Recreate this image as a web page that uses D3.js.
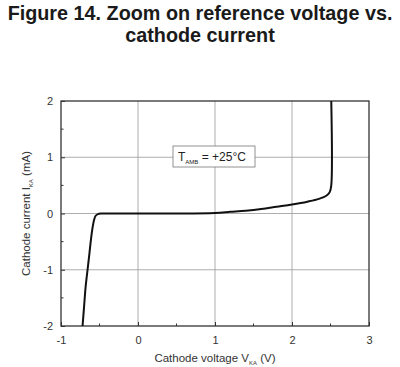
<!doctype html>
<html>
<head>
<meta charset="utf-8">
<script src="https://cdn.jsdelivr.net/npm/d3@7"></script>
<style>
  body { margin: 0; background: #fff; }
  svg { font-family: "Liberation Sans", Arial, sans-serif; }
</style>
</head>
<body>
<script>
// data
const voltage = [-0.72, -0.7, -0.68, -0.655, -0.63, -0.61, -0.59, -0.57, -0.55, -0.52, -0.48, -0.4, 0, 0.5, 1.0, 1.2, 1.4, 1.6, 1.8, 2.0, 2.2, 2.35, 2.45, 2.49, 2.51, 2.51]
const current = [-2, -1.65, -1.3, -1.0, -0.7, -0.45, -0.25, -0.11, -0.04, -0.01, 0, 0, 0, 0, 0.01, 0.03, 0.05, 0.08, 0.12, 0.16, 0.21, 0.26, 0.32, 0.38, 0.5, 2]
const xTicks = [-1, 0, 1, 2, 3]
const yTicks = [-2, -1, 0, 1, 2]
const xMinor = [-0.5, 0.5, 1.5, 2.5]
const yMinor = [-1.5, -0.5, 0.5, 1.5]

const w = 400
const h = 367
const pl = 61, pr = 369, pt = 101, pb = 326

const svg = d3.select('body').append('svg')
    .attr('width', w)
    .attr('height', h)

// title
svg.append('text')
    .attr('x', 200).attr('y', 20)
    .attr('text-anchor', 'middle')
    .attr('font-size', '19.8px').attr('font-weight', 'bold')
    .attr('fill', '#1a1a1a')
    .text('Figure 14. Zoom on reference voltage vs.')
svg.append('text')
    .attr('x', 200).attr('y', 42)
    .attr('text-anchor', 'middle')
    .attr('font-size', '19.8px').attr('font-weight', 'bold')
    .attr('fill', '#1a1a1a')
    .text('cathode current')

const x = d3.scaleLinear().domain([-1, 3]).range([pl, pr])
const y = d3.scaleLinear().domain([-2, 2]).range([pb, pt])

// grid
svg.selectAll('line.gx')
    .data(xTicks.slice(1, -1))
    .enter().append('line')
    .attr('x1', d => x(d)).attr('x2', d => x(d))
    .attr('y1', pt).attr('y2', pb)
    .attr('stroke', '#999').attr('stroke-width', 0.8)
svg.selectAll('line.gy')
    .data(yTicks.slice(1, -1))
    .enter().append('line')
    .attr('x1', pl).attr('x2', pr)
    .attr('y1', d => y(d)).attr('y2', d => y(d))
    .attr('stroke', '#999').attr('stroke-width', 0.8)

// axes (ticks inward)
const xAxis = svg.append('g')
    .attr('transform', 'translate(0,' + pb + ')')
    .call(d3.axisBottom(x).tickValues(xTicks).tickSize(-4).tickPadding(8).tickFormat(d => String(d)))
const yAxis = svg.append('g')
    .attr('transform', 'translate(' + pl + ',0)')
    .call(d3.axisLeft(y).tickValues(yTicks).tickSize(-4).tickPadding(8).tickFormat(d => String(d)))
;[xAxis, yAxis].forEach(g => {
    g.select('.domain').remove()
    g.selectAll('line').attr('stroke', '#333')
    g.selectAll('text').attr('font-size', '11px').attr('fill', '#333')
        .attr('font-family', '"Liberation Sans", Arial, sans-serif')
})
xAxis.selectAll('text').attr('dy', '0.9em')

// minor ticks
svg.selectAll('line.mx')
    .data(xMinor)
    .enter().append('line')
    .attr('x1', d => x(d)).attr('x2', d => x(d))
    .attr('y1', pb).attr('y2', pb - 2.5)
    .attr('stroke', '#333')
svg.selectAll('line.my')
    .data(yMinor)
    .enter().append('line')
    .attr('x1', pl).attr('x2', pl + 2.5)
    .attr('y1', d => y(d)).attr('y2', d => y(d))
    .attr('stroke', '#333')

// frame
svg.append('rect')
    .attr('x', pl).attr('y', pt)
    .attr('width', pr - pl).attr('height', pb - pt)
    .attr('fill', 'none').attr('stroke', '#333').attr('stroke-width', 1.3)

// curve
const pts = voltage.map((v, i) => [v, current[i]])
svg.append('path')
    .datum(pts)
    .attr('d', d3.line().x(d => x(d[0])).y(d => y(d[1])).curve(d3.curveCatmullRom.alpha(0.5)))
    .attr('fill', 'none')
    .attr('stroke', '#111')
    .attr('stroke-width', 2)
    .attr('stroke-linejoin', 'round')

// annotation box
const box = svg.append('g')
box.append('rect')
    .attr('x', 173).attr('y', 146)
    .attr('width', 82).attr('height', 21)
    .attr('fill', '#fff').attr('stroke', '#777').attr('stroke-width', 0.8)
const t = box.append('text')
    .attr('x', 178).attr('y', 161)
    .attr('font-size', '12px').attr('fill', '#222')
t.append('tspan').text('T')
t.append('tspan').attr('font-size', '6px').attr('dy', 3).text('AMB')
t.append('tspan').attr('dy', -3).text(' = +25°C')

// axis titles
const xl = svg.append('text')
    .attr('x', 215).attr('y', 362)
    .attr('text-anchor', 'middle')
    .attr('font-size', '11.5px').attr('fill', '#333')
xl.append('tspan').text('Cathode voltage V')
xl.append('tspan').attr('font-size', '6px').attr('dy', 3).text('KA')
xl.append('tspan').attr('dy', -3).text(' (V)')

const yl = svg.append('text')
    .attr('transform', 'translate(30,' + ((pt + pb) / 2) + ') rotate(-90)')
    .attr('text-anchor', 'middle')
    .attr('font-size', '11.5px').attr('fill', '#333')
yl.append('tspan').text('Cathode current I')
yl.append('tspan').attr('font-size', '6px').attr('dy', 3).text('KA')
yl.append('tspan').attr('dy', -3).text(' (mA)')
</script>
</body>
</html>
